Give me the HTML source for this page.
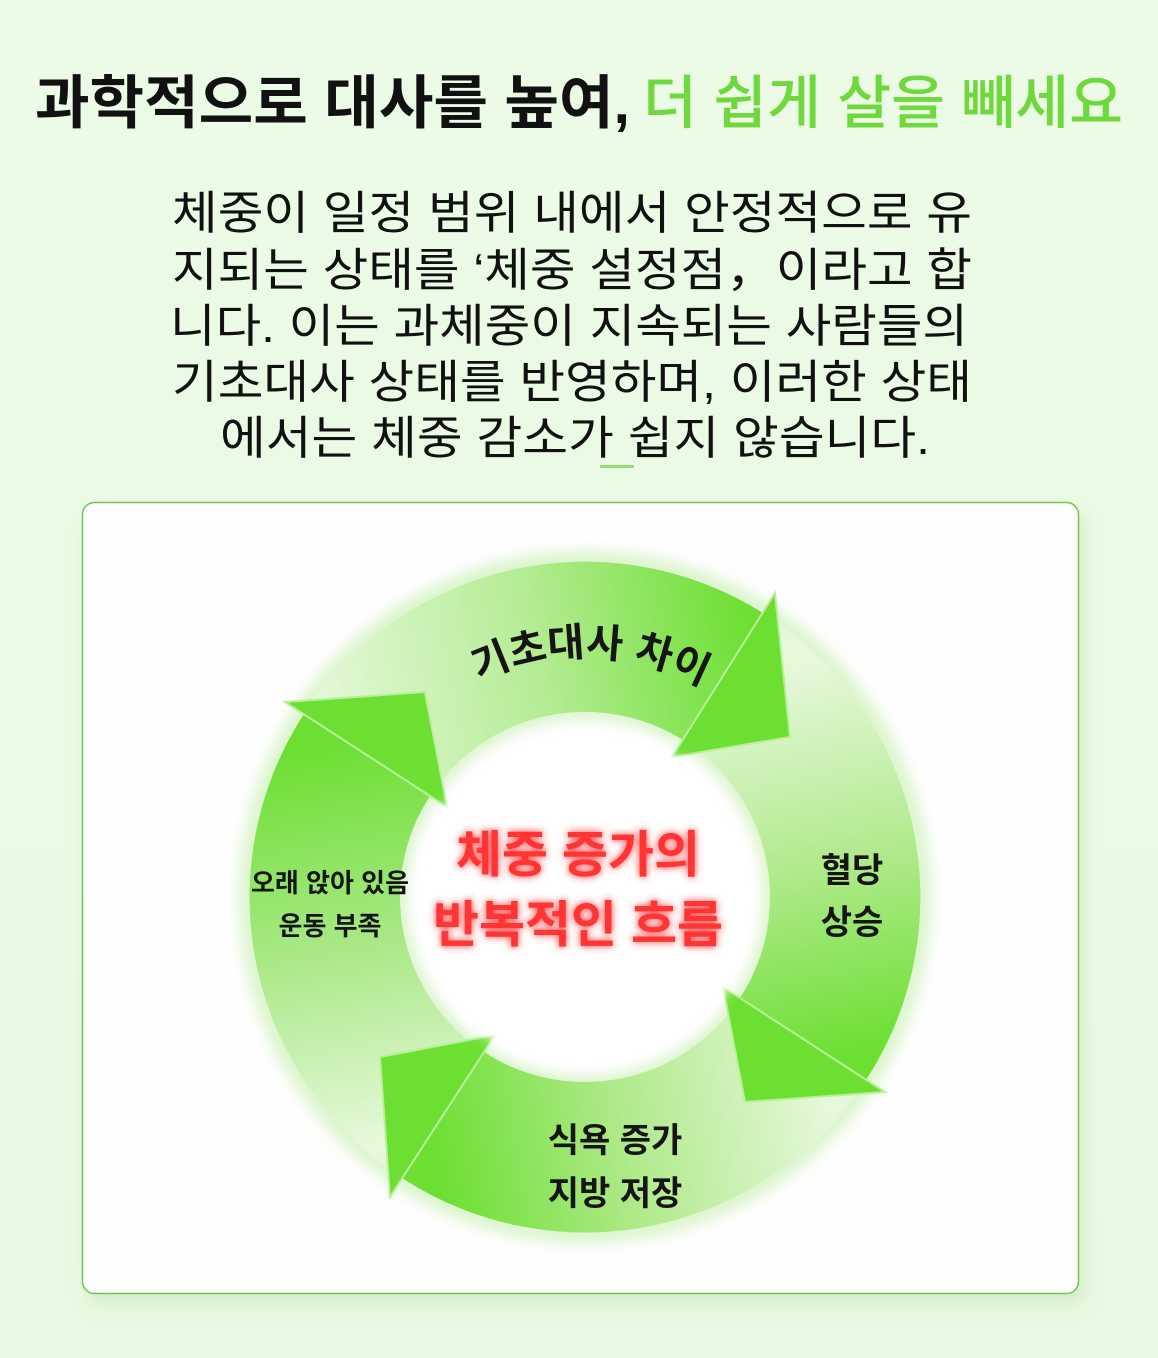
<!DOCTYPE html>
<html><head><meta charset="utf-8">
<style>
html,body{margin:0;padding:0;background:#eefbe8;}
svg{display:block;}
text{font-family:"Liberation Sans","Noto Sans CJK KR",sans-serif;}
</style></head>
<body>
<svg width="1158" height="1358" viewBox="0 0 1158 1358" xmlns="http://www.w3.org/2000/svg">
<defs>
  <linearGradient id="bg" x1="0" y1="0" x2="0" y2="1">
    <stop offset="0" stop-color="#ecfbe6"/><stop offset="1" stop-color="#e8f9e1"/>
  </linearGradient>
  <filter id="sh" x="-10%" y="-10%" width="120%" height="120%">
    <feGaussianBlur stdDeviation="8"/>
  </filter>
  <filter id="glow" x="-20%" y="-40%" width="140%" height="180%">
    <feGaussianBlur stdDeviation="4" result="b"/>
    <feMerge><feMergeNode in="b"/><feMergeNode in="SourceGraphic"/></feMerge>
  </filter>
  <filter id="soft" x="-20%" y="-20%" width="140%" height="140%">
    <feGaussianBlur stdDeviation="6"/>
  </filter>
  <linearGradient id="gTop" gradientUnits="userSpaceOnUse" x1="330" y1="760" x2="760" y2="680">
    <stop offset="0" stop-color="#e4f8d8"/><stop offset="0.5" stop-color="#b6ec95"/><stop offset="1" stop-color="#6ddf33"/>
  </linearGradient>
  <linearGradient id="gRight" gradientUnits="userSpaceOnUse" x1="740" y1="680" x2="820" y2="1060">
    <stop offset="0" stop-color="#e6f8da"/><stop offset="0.5" stop-color="#b2ea8e"/><stop offset="1" stop-color="#6ddf33"/>
  </linearGradient>
  <linearGradient id="gBot" gradientUnits="userSpaceOnUse" x1="820" y1="1060" x2="430" y2="1130">
    <stop offset="0" stop-color="#e6f8da"/><stop offset="0.5" stop-color="#b2ea8e"/><stop offset="1" stop-color="#6ddf33"/>
  </linearGradient>
  <linearGradient id="gLeft" gradientUnits="userSpaceOnUse" x1="430" y1="1130" x2="360" y2="740">
    <stop offset="0" stop-color="#e6f8da"/><stop offset="0.5" stop-color="#a8e884"/><stop offset="1" stop-color="#6ddf33"/>
  </linearGradient>
  <path id="arcTop" d="M447,700 A240 240 0 0 1 723,700"/>
</defs>
<rect width="1158" height="1358" fill="url(#bg)"/>

<text x="35" y="123" font-size="58" font-weight="700" fill="#111" textLength="595" lengthAdjust="spacingAndGlyphs">과학적으로 대사를 높여,</text>
<text x="643" y="123" font-size="58" font-weight="500" fill="#6fd83c" textLength="480" lengthAdjust="spacingAndGlyphs">더 쉽게 살을 빼세요</text>

<g font-size="46" fill="#111" font-weight="400">
<text x="172" y="229" textLength="800" lengthAdjust="spacingAndGlyphs">체중이 일정 범위 내에서 안정적으로 유</text>
<text x="172" y="286" textLength="800" lengthAdjust="spacingAndGlyphs">지되는 상태를 ‘체중 설정점，이라고 합</text>
<text x="170" y="342" textLength="798" lengthAdjust="spacingAndGlyphs">니다. 이는 과체중이 지속되는 사람들의</text>
<text x="172" y="398" textLength="800" lengthAdjust="spacingAndGlyphs">기초대사 상태를 반영하며, 이러한 상태</text>
<text x="220" y="454" textLength="710" lengthAdjust="spacingAndGlyphs">에서는 체중 감소가 쉽지 않습니다.</text>
</g>
<rect x="600" y="465" width="34" height="3" fill="#7fd65a" opacity="0.8"/>

<rect x="88" y="512" width="997" height="792" rx="12" fill="#cfe8c4" filter="url(#sh)" opacity="0.7"/>
<rect x="82.5" y="502.5" width="996" height="791" rx="12" fill="#fefefe" stroke="#72c650" stroke-width="1.5"/>

<circle cx="585" cy="897" r="262" fill="none" stroke="#c8f0b0" stroke-width="170" filter="url(#soft)" opacity="0.6"/>

<path d="M304,714 A335 335 0 0 1 763,613 L683,740 A185 185 0 0 0 430,796 Z" fill="url(#gTop)"/>
<path d="M763,613 A335 335 0 0 1 866,1080 L740,998 A185 185 0 0 0 683,740 Z" fill="url(#gRight)"/>
<path d="M866,1080 A335 335 0 0 1 402,1178 L484,1052 A185 185 0 0 0 740,998 Z" fill="url(#gBot)"/>
<path d="M402,1178 A335 335 0 0 1 304,714 L430,796 A185 185 0 0 0 484,1052 Z" fill="url(#gLeft)"/>
<g fill="#6ddf33" stroke="#b8f09a" stroke-width="2">
<path d="M775,593 L790,737 L672,757 Z"/>
<path d="M885,1092 L745,1102 L723,987 Z"/>
<path d="M390,1197 L380,1057 L495,1035 Z"/>
<path d="M285,702 L425,692 L447,807 Z"/>
</g>
<circle cx="585" cy="900" r="168" fill="#ffffff" filter="url(#soft)"/>

<text font-size="40" font-weight="700" fill="#151515"><textPath href="#arcTop" startOffset="52%" text-anchor="middle">기초대사 차이</textPath></text>
<g font-weight="700" fill="#151515" text-anchor="middle">
<text x="330" y="892" font-size="26">오래 앉아 있음</text>
<text x="330" y="935" font-size="26">운동 부족</text>
<text x="852" y="882" font-size="34">혈당</text>
<text x="852" y="934" font-size="34">상승</text>
<text x="615" y="1152" font-size="34">식욕 증가</text>
<text x="615" y="1205" font-size="34">지방 저장</text>
</g>
<g font-weight="700" fill="#ff3434" text-anchor="middle" filter="url(#glow)">
<text x="578" y="872" font-size="50">체중 증가의</text>
<text x="578" y="942" font-size="50">반복적인 흐름</text>
</g>
</svg>
</body></html>
